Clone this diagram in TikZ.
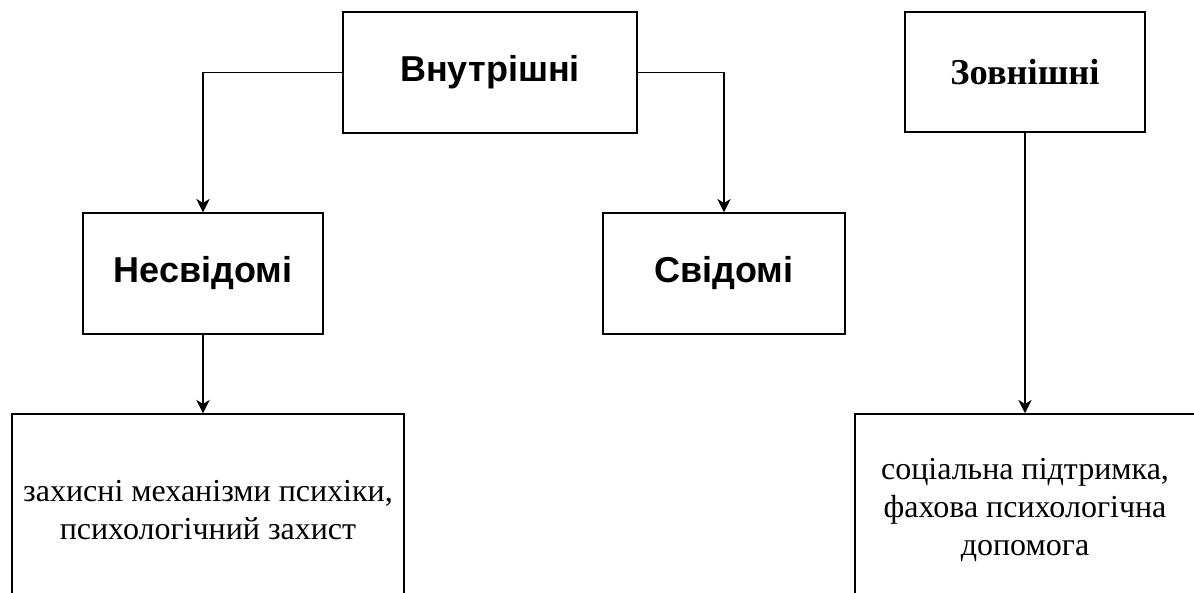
\documentclass[tikz,border=0pt]{standalone}
\usepackage{fontspec}
\setmainfont{Liberation Serif}
\setsansfont{Liberation Sans}
\usetikzlibrary{arrows.meta}
\tikzset{
  box/.style={draw,line width=1.1pt,align=center,inner sep=2pt},
  headbox/.style={box,font=\sffamily\bfseries\fontsize{27}{32}\selectfont},
  textbox/.style={box,font=\fontsize{24}{28.5}\selectfont},
  link/.style={line width=1.1pt,-{Stealth[length=10pt,width=10pt,inset=3pt]}}
}
\begin{document}
\begin{tikzpicture}[x=0.75pt,y=-0.75pt]
  % canvas in pixels of the 1194x592 frame, y running downwards
  \clip (0,0) rectangle (1194,592);

  % top row
  \node[headbox,minimum width=294*0.75pt,minimum height=121*0.75pt] (inner) at (490,72.5) {Внутрішні};
  \node[box,font=\bfseries\fontsize{27.3}{32}\selectfont,minimum width=240*0.75pt,minimum height=120*0.75pt]
    (outer) at (1025,72) {Зовнішні};

  % second row
  \node[headbox,minimum width=240*0.75pt,minimum height=121*0.75pt] (uncons) at (203,273.5) {Несвідомі};
  \node[headbox,minimum width=242*0.75pt,minimum height=121*0.75pt] (cons) at (724,273.5) {Свідомі};

  % bottom row, cut by the frame
  \node[textbox,minimum width=392*0.75pt,minimum height=192*0.75pt] (defence) at (208,510)
    {захисні механізми психіки,\\психологічний захист};
  \node[textbox,minimum width=340*0.75pt,minimum height=192*0.75pt] (support) at (1025,510)
    {соціальна підтримка,\\фахова психологічна\\допомога};

  % connectors
  \draw[link] (inner.west) -| (uncons.north);
  \draw[link] (inner.east) -| (cons.north);
  \draw[link] (uncons.south) -- (uncons.south |- defence.north);
  \draw[link] (outer.south) -- (support.north);
\end{tikzpicture}
\end{document}
